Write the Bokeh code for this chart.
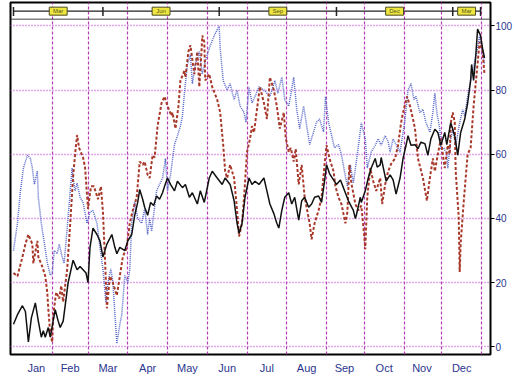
from bokeh.plotting import figure
from bokeh.models import Range1d, FixedTicker, Span
from bokeh.core.properties import value
from bokeh.embed import file_html
from bokeh.resources import INLINE

# ---- data (x in trading days from start of series) ----
month_names = ["Jan", "Feb", "Mar", "Apr", "May", "Jun", "Jul", "Aug", "Sep", "Oct", "Nov", "Dec"]
month_label_pos = [12, 29, 48, 68, 88, 108, 128, 148, 167, 187, 206, 226]
month_bounds = [20, 38, 58, 78, 98, 118, 138, 158, 177, 197, 216, 236]

contract_names = ["Mar", "Jun", "Sep", "Dec", "Mar"]
contract_bounds = [0.5, 45.5, 104, 163, 221.5, 235.5]

y_ticks = [0, 20, 40, 60, 80, 100]

black_x = [0.5, 2.5, 5, 6.5, 8, 9.5, 11.5, 13, 14.5, 15.5, 16.5, 18, 19, 21.5, 23, 24, 25.5, 28, 30.5, 32.5,
           34, 35.5, 37, 38, 39, 40.5, 42.5, 44, 45.5, 47.5, 50, 51.5, 52.5, 54, 56.5, 58, 60, 61.5, 63, 64,
           65.5, 66.5, 68, 69.5, 71, 72.5, 74, 75.5, 76.5, 78, 79.5, 81.5, 83, 85.5, 87, 89, 90.5, 93, 94.5, 96.5,
           99, 100.5, 103, 105.5, 107, 109.5, 111.5, 113, 114, 115.5, 117, 119, 120.5, 122, 124, 126.5, 128, 129.5,
           131.5, 133, 134, 135.5, 137, 139, 140.5, 142, 144, 145.5, 147, 149, 150.5, 152, 154, 155.5, 157, 158,
           159.5, 161.5, 163, 165, 166.5, 169, 171.5, 172.5, 173, 175, 175.5, 177.5, 179, 180.5, 182.5, 183.5, 185,
           185.5, 186.5, 188, 190, 191.5, 193, 195, 196.5, 198, 199, 200.5, 202.5, 204, 205.5, 207.5, 209, 210.5,
           212.5, 214, 215.5, 217.5, 218.5, 220.5, 222.5, 224, 225.5, 227.5, 229, 230.5, 231, 232, 233, 234, 235.5,
           236.5, 237.5]
black_y = [7, 10, 12.8, 11, 1.5, 9, 13.7, 8, 3, 5, 3, 6, 3, 11.6, 8, 6, 8, 20, 27, 24,
           25, 24, 23, 20, 31, 37, 35, 33, 28, 32, 35, 31, 29, 31, 30, 33, 35, 41, 45, 49,
           46, 43.5, 41, 45, 44, 47, 46, 48, 50, 52.6, 50.6, 48.6, 51.6, 49.6, 50.6, 46.6, 48, 44.5, 48.6, 45,
           52.6, 54.7, 52.6, 50.6, 52.6, 50.6, 45.5, 38.5, 35.4, 38.5, 46.6, 52.6, 50.6, 51.6, 50.6, 52.6, 48.6, 44.5,
           41.5, 38.5, 37, 42.5, 46.6, 48, 44.5, 46.6, 39.5, 45.5, 46.6, 43.5, 44.5, 46.6, 47, 45, 51.6, 56.7,
           54, 52, 50.6, 52, 49.6, 45.5, 42.5, 40, 41, 46.6, 45, 48.6, 52.6, 55.7, 58.7, 56, 56.7,
           59, 56, 51.6, 53.6, 52, 47.6, 52.6, 58.7, 62.8, 65.8, 62.8, 63, 61.7, 63.8, 63.3, 59.7, 64.8,
           67.8, 66.8, 62.8, 66.8, 63, 69.8, 65.8, 59.7, 66.8, 70.9, 75.9, 83, 88, 83, 90, 99, 97,
           93, 90]

red_x = [0.5, 2.5, 5, 6.5, 8, 10, 10.5, 12.5, 13, 15, 16.5, 17.5, 18, 19, 20, 20.5, 22, 23.5, 24.5, 25.5,
         27.5, 29, 30.5, 31.5, 32.5, 33.5, 35.5, 36.5, 38, 39.5, 41, 43, 44.5, 45.5, 46.5, 47.5, 49, 50.5, 52.5, 54,
         55.5, 57.5, 59, 60.5, 62.5, 64, 65.5, 66.5, 68, 69, 70.5, 71.5, 73, 75, 76.5, 78, 80, 80.5, 82, 83.5,
         84.5, 86.5, 87, 88.5, 89.5, 91.5, 93, 94, 95, 95.5, 96.5, 97, 99, 100.5, 103, 104.5, 106, 107, 108, 109.5,
         111.5, 113, 114, 115.5, 116.5, 118, 119.5, 120.5, 121.5, 123, 124.5, 126.5, 128, 129.5, 131.5, 133, 134.5,
         136.5, 137.5, 139, 140, 141.5, 142.5, 144, 145.5, 147, 149.5, 150.5, 152, 154, 155.5, 157, 158, 159.5,
         161.5, 162.5, 164, 165.5, 167.5, 168.5, 169.5, 170.5, 172.5, 174, 175.5, 177, 177.5, 178.5, 180, 181.5,
         183, 185, 186, 187.5, 189, 190.5, 192.5, 194, 195.5, 196.5, 198.5, 200, 201.5, 202.5, 204, 206.5, 208.5,
         210, 211.5, 212.5, 214, 215.5, 216.5, 217.5, 219, 220, 220.5, 221.5, 222.5, 223, 224.5, 225, 225.5, 227,
         229, 230.5, 232, 233.5, 235, 236.5, 237.5]
red_y = [23, 22, 28, 32, 35, 32, 26, 33, 28, 25, 22, 17, 12, 4, 1.5, 10, 17, 15, 19, 14,
         24, 38, 53, 60, 66, 62, 59, 56, 43, 50, 50, 46, 50, 42, 28, 12, 22, 20, 16, 22,
         28, 31, 38.5, 42.5, 46.6, 57.7, 56.7, 57.7, 53.6, 52.6, 59.7, 59, 68.8, 76, 78, 75, 72, 73, 68, 75,
         83, 86, 84, 92, 94, 85, 92, 81, 91, 97, 95, 83, 85, 81, 77, 73, 63, 54.7, 52.6, 56.7,
         52.6, 42.5, 34.4, 38.5, 46.6, 60.7, 64.8, 68.8, 66.8, 74, 81, 76, 71, 84, 80, 75, 68,
         73, 65, 60.7, 62, 57.7, 61.7, 50.6, 56.7, 46.6, 38.5, 33.5, 38.5, 42.5, 46.6, 56.7, 62.8, 58.7,
         54.7, 50, 46.6, 44.5, 38.5, 42, 56.7, 51, 44.5, 42.5, 44, 34.4, 30.4, 46.6, 55.7, 51.6,
         48.6, 52.6, 44.5, 50.6, 54.7, 57, 58.7, 62.8, 69.8, 73, 78, 75, 71, 68, 58.7, 52.6, 45.5,
         52.6, 58.7, 54.7, 60, 64.8, 60, 55.7, 62.8, 60, 69.8, 73, 70, 54.7, 40.5, 23.3, 32.4, 45,
         60, 62, 75, 85, 95, 92, 85]

blue_x = [0.5, 2.5, 4, 5.5, 7.5, 9, 10, 11, 12.5, 13, 14.5, 16, 17.5, 19, 20, 21, 22.5, 23.5, 25, 26,
          28, 30, 30.5, 31.5, 32.5, 34, 35.5, 37.5, 39, 40.5, 42.5, 44, 45.5, 47, 48, 49.5, 50.5, 52.5, 54, 55,
          56.5, 58, 59, 60, 61.5, 63, 65, 66.5, 68, 69, 70, 72.5, 74, 75.5, 77, 78, 79.5, 81.5, 83, 84.5,
          85.5, 86.5, 88, 89.5, 90.5, 92, 94, 95.5, 97, 99, 101.5, 104, 104.5, 106, 108, 109.5, 111.5, 113, 114.5,
          116.5, 117.5, 119, 120.5, 122, 124, 126.5, 128, 129.5, 132, 133.5, 135.5, 137, 139, 141.5, 143, 144.5,
          146.5, 149.5, 150.5, 153, 154.5, 156.5, 157.5, 159, 160.5, 162, 164, 165.5, 167, 168.5, 170, 171.5, 173,
          174.5, 175.5, 177.5, 178.5, 180.5, 182.5, 184, 185.5, 187.5, 189, 190, 191.5, 193, 195, 196.5, 197.5,
          199, 200.5, 202, 203, 205, 206.5, 208, 210, 211.5, 212.5, 213.5, 215, 215.5, 217, 218.5, 219, 220.5,
          221.5, 223, 225, 226.5, 227.5, 229, 230.5, 231.5, 232.5, 234, 235, 236, 237.5]
blue_y = [30, 38.5, 48.6, 55.7, 59.7, 58.7, 55.7, 50.6, 54.7, 46.6, 38.5, 32.4, 26.3, 22.3, 23, 30, 29, 32, 28, 26,
          40.5, 55.7, 52.6, 48.6, 51, 46.6, 45, 38.5, 42, 42.5, 38.5, 31, 24.3, 14, 20, 24.3, 20, 1, 7, 10,
          22.3, 20, 24, 38.5, 45, 40, 38.5, 43, 35, 40, 36, 48.6, 50.6, 52.6, 58.7, 48.6, 53.6, 63, 65.8, 68.8,
          71.9, 79, 88, 91, 82, 88, 92, 85, 89, 93, 97, 100, 93, 83, 80, 82, 77, 80, 75,
          73, 70, 81, 76, 78, 81, 80, 79, 78, 83, 79, 84, 77, 75, 84, 74, 68,
          75, 63, 65, 70, 71, 67, 78, 70, 66, 62, 63, 60, 54.7, 50, 56.7, 51, 57.7,
          64.8, 69.8, 64.8, 55.7, 60.7, 62.8, 64.8, 62.8, 65.8, 64, 60.7, 64.8, 63, 60.7, 66.8, 70.9,
          80, 82, 77, 78, 73, 74, 70, 66.8, 73, 79, 73, 67.8, 61.7, 62, 60, 55.7, 64.8,
          67.8, 62.8, 69.8, 73.9, 72, 78, 83, 85, 89, 93, 97, 93, 88]

# ---- figure ----
p = figure(width=515, height=376, output_backend="svg", toolbar_location=None,
           x_range=Range1d(-1, 240.5), y_range=Range1d(-2.4, 107.3),
           y_axis_location="right", min_border_left=10, min_border_top=2,
           min_border_right=22, min_border_bottom=14)
p.background_fill_color = "white"
p.border_fill_color = "white"
p.outline_line_color = "black"
p.outline_line_width = 2

# grids
p.xgrid.ticker = FixedTicker(ticks=month_bounds)
p.xgrid.grid_line_color = "#b43cb4"
p.xgrid.grid_line_dash = "3 2"
p.xgrid.grid_line_width = 1.2
p.ygrid.grid_line_color = "#c050d0"
p.ygrid.grid_line_dash = "1 2"
p.ygrid.grid_line_width = 1.3

# x axis: month names centred in months
p.xaxis.ticker = FixedTicker(ticks=month_label_pos)
p.xaxis.major_label_overrides = {pos: name for pos, name in zip(month_label_pos, month_names)}
p.xaxis.major_tick_line_color = None
p.xaxis.minor_tick_line_color = None
p.xaxis.axis_line_color = None
p.xaxis.major_label_text_color = "#2a3590"
p.xaxis.major_label_text_font = "Liberation Sans"
p.xaxis.major_label_text_font_size = "11px"
p.xaxis.major_label_standoff = 1

# y axis on right
p.yaxis.ticker = FixedTicker(ticks=y_ticks)
p.yaxis.minor_tick_line_color = None
p.yaxis.axis_line_color = None
p.yaxis.major_tick_line_color = "black"
p.yaxis.major_tick_in = 0
p.yaxis.major_tick_out = 4
p.yaxis.major_label_standoff = 1
p.yaxis.major_label_text_color = "#2a3590"
p.yaxis.major_label_text_font = "Liberation Sans"
p.yaxis.major_label_text_font_size = "10px"

# series
p.line(blue_x, blue_y, line_color="#5868c8", line_width=1.5, line_dash="1 1")
p.line(red_x, red_y, line_color="#a8382a", line_width=2, line_dash="3 2")
p.line(black_x, black_y, line_color="#111111", line_width=1.5)

# contract strip at top
strip_y = 104.6
p.add_layout(Span(location=102.1, dimension="width", line_color="#444444", line_width=1))
p.segment(x0=[contract_bounds[0]], y0=[strip_y], x1=[contract_bounds[-1]], y1=[strip_y],
          line_color="#222222", line_width=1.3)
p.segment(x0=contract_bounds, y0=[103.1] * len(contract_bounds), x1=contract_bounds,
          y1=[105.9] * len(contract_bounds), line_color="#222222", line_width=1.5)
mids = [(a + b) / 2 for a, b in zip(contract_bounds[:-1], contract_bounds[1:])]
p.rect(x=mids, y=[strip_y] * len(mids), width=9, height=8, height_units="screen",
       fill_color="#efe640", line_color="#4a4a20", line_width=1)
p.text(x=mids, y=[strip_y] * len(mids), text=contract_names, text_align="center",
       text_baseline="middle", text_font=value("Liberation Sans"), text_font_size="6px",
       text_color="#555522")

open("out.html", "w").write(file_html(p, INLINE))
